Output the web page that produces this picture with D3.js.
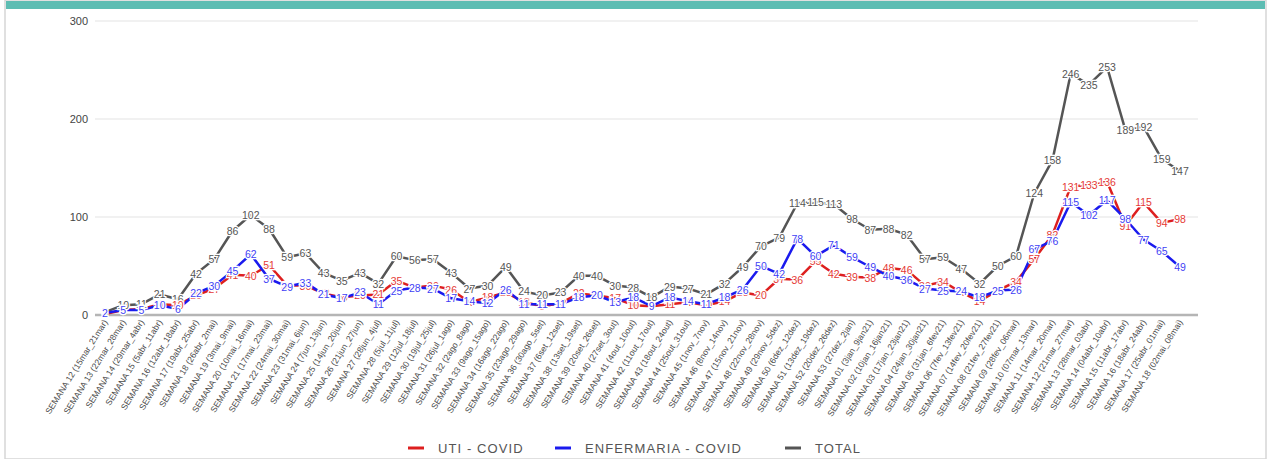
<!DOCTYPE html>
<html>
<head>
<meta charset="utf-8">
<script src="https://cdn.jsdelivr.net/npm/d3@7"></script>
<style>
  body { margin: 0; background: #fff; }
  svg { display: block; font-family: "Liberation Sans", Arial, sans-serif; }
</style>
</head>
<body>
<svg id="chart" width="1272" height="459"></svg>
<script>
// semanas epidemiológicas (2020 -> 2021)
const semanas = [
  "SEMANA 12 (15mar_21mar)", "SEMANA 13 (22mar_28mar)", "SEMANA 14 (29mar_4abr)", "SEMANA 15 (5abr_11abr)",
  "SEMANA 16 (12abr_18abr)", "SEMANA 17 (19abr_25abr)", "SEMANA 18 (26abr_2mai)", "SEMANA 19 (3mai_9mai)",
  "SEMANA 20 (10mai_16mai)", "SEMANA 21 (17mai_23mai)", "SEMANA 22 (24mai_30mai)", "SEMANA 23 (31mai_6jun)",
  "SEMANA 24 (7jun_13jun)", "SEMANA 25 (14jun_20jun)", "SEMANA 26 (21jun_27jun)", "SEMANA 27 (28jun_4jul)",
  "SEMANA 28 (5jul_11jul)", "SEMANA 29 (12jul_18jul)", "SEMANA 30 (19jul_25jul)", "SEMANA 31 (26jul_1ago)",
  "SEMANA 32 (2ago_8ago)", "SEMANA 33 (9ago_15ago)", "SEMANA 34 (16ago_22ago)", "SEMANA 35 (23ago_29ago)",
  "SEMANA 36 (30ago_5set)", "SEMANA 37 (6set_12set)", "SEMANA 38 (13set_19set)", "SEMANA 39 (20set_26set)",
  "SEMANA 40 (27set_3out)", "SEMANA 41 (4out_10out)", "SEMANA 42 (11out_17out)", "SEMANA 43 (18out_24out)",
  "SEMANA 44 (25out_31out)", "SEMANA 45 (1nov_7nov)", "SEMANA 46 (8nov_14nov)", "SEMANA 47 (15nov_21nov)",
  "SEMANA 48 (22nov_28nov)", "SEMANA 49 (29nov_5dez)", "SEMANA 50 (6dez_12dez)", "SEMANA 51 (13dez_19dez)",
  "SEMANA 52 (20dez_26dez)", "SEMANA 53 (27dez_2jan)", "SEMANA 01 (3jan_9jan21)", "SEMANA 02 (10jan_16jan21)",
  "SEMANA 03 (17jan_23jan21)", "SEMANA 04 (24jan_30jan21)", "SEMANA 05 (31jan_6fev21)", "SEMANA 06 (7fev_13fev21)",
  "SEMANA 07 (14fev_20fev21)", "SEMANA 08 (21fev_27fev21)", "SEMANA 09 (28fev_06mar)", "SEMANA 10 (07mar_13mar)",
  "SEMANA 11 (14mar_20mar)", "SEMANA 12 (21mar_27mar)", "SEMANA 13 (28mar_03abr)", "SEMANA 14 (04abr_10abr)",
  "SEMANA 15 (11abr_17abr)", "SEMANA 16 (18abr_24abr)", "SEMANA 17 (25abr_01mai)", "SEMANA 18 (02mai_08mai)"
]

const uti = [1,5,6,11,10,20,27,41,40,51,30,30,22,18,20,21,35,28,30,26,13,18,23,13,9,12,22,20,17,10,
  9,11,13,10,14,23,20,37,36,55,42,39,38,48,46,30,34,23,14,25,34,57,82,131,133,136,91,115,94,98]
const enfermaria = [2,5,5,10,6,22,30,45,62,37,29,33,21,17,23,11,25,28,27,17,14,12,26,11,11,11,18,20,13,18,
  9,18,14,11,18,26,50,42,78,60,71,59,49,40,36,27,25,24,18,25,26,67,76,115,102,117,98,77,65,49]
const total = [3,10,11,21,16,42,57,86,102,88,59,63,43,35,43,32,60,56,57,43,27,30,49,24,20,23,40,40,30,28,
  18,29,27,21,32,49,70,79,114,115,113,98,87,88,82,57,59,47,32,50,60,124,158,246,235,253,189,192,159,147]
const yTicks = [0, 100, 200, 300]

const series = [
  { name: "TOTAL", values: total, color: "#555555", label: "#555555" },
  { name: "UTI - COVID", values: uti, color: "#dd1f1f", label: "#e53935" },
  { name: "ENFERMARIA - COVID", values: enfermaria, color: "#1a1aee", label: "#3f3ff5" }
]
const legendOrder = [series[1], series[2], series[0]]

const svg = d3.select("#chart")

// cartão
svg.append("rect").attr("x", 5).attr("y", 0).attr("width", 1261).attr("height", 459)
  .attr("fill", "#fff").attr("stroke", "#d6d6d6").attr("stroke-width", 1.5)
svg.append("rect").attr("x", 6).attr("y", 1).attr("width", 1259).attr("height", 8).attr("fill", "#5dbdb3")

const x = d3.scalePoint().domain(d3.range(semanas.length)).range([105, 1180])
const y = d3.scaleLinear().domain([0, 300]).range([315, 21])

// grade
svg.append("g").selectAll("line").data(yTicks.filter(d => d > 0)).join("line")
  .attr("x1", 95).attr("x2", 1198)
  .attr("y1", d => y(d)).attr("y2", d => y(d))
  .attr("stroke", "#e3e3e3").attr("stroke-width", 1)

svg.append("g").selectAll("text").data(yTicks).join("text")
  .attr("x", 88).attr("y", d => y(d) + 4)
  .attr("text-anchor", "end").attr("font-size", 11).attr("fill", "#444")
  .text(d => d)

// linha de base
svg.append("line").attr("x1", 95).attr("x2", 1198).attr("y1", y(0)).attr("y2", y(0))
  .attr("stroke", "#b5b5b5").attr("stroke-width", 2.5)

// rótulos do eixo x
svg.append("g").selectAll("text").data(semanas).join("text")
  .attr("transform", (d, i) => `translate(${x(i) + 3},${y(0) + 7}) rotate(-58)`)
  .attr("text-anchor", "end")
  .attr("font-family", "'Liberation Sans Narrow', 'Arial Narrow', sans-serif")
  .attr("font-size", 8.6).attr("fill", "#4a4a4a")
  .text(d => d)

// linhas
const line = d3.line().x((d, i) => x(i)).y(d => y(d))
svg.append("g").selectAll("path").data(series).join("path")
  .attr("d", s => line(s.values))
  .attr("fill", "none").attr("stroke", s => s.color)
  .attr("stroke-width", 2.5).attr("stroke-linejoin", "round")

// rótulos de dados
series.forEach(s => {
  svg.append("g").selectAll("text").data(s.values).join("text")
    .attr("x", (d, i) => x(i)).attr("y", d => y(d) + 4)
    .attr("text-anchor", "middle").attr("font-size", 10.5)
    .attr("fill", s.label)
    .attr("stroke", "#fff").attr("stroke-width", 2.5).attr("paint-order", "stroke")
    .text(d => d)
})

// legenda
const legend = svg.append("g").attr("font-size", 13).attr("fill", "#555").attr("letter-spacing", 1.1)
const legendX = [408, 555, 785]
legendOrder.forEach((s, i) => {
  legend.append("line").attr("x1", legendX[i]).attr("x2", legendX[i] + 16)
    .attr("y1", 448).attr("y2", 448).attr("stroke", s.color).attr("stroke-width", 3)
  legend.append("text").attr("x", legendX[i] + 30).attr("y", 453).text(s.name)
})
</script>
</body>
</html>
